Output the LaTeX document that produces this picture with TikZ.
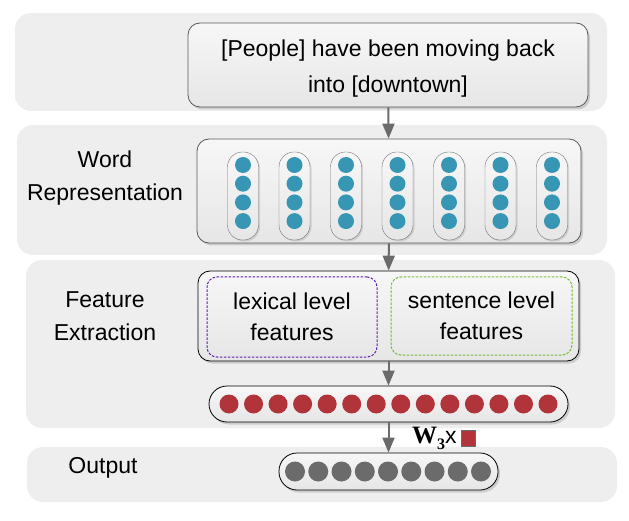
\documentclass[tikz,border=0pt]{standalone}
\usepackage{fontspec}
\setmainfont{Liberation Sans}
\newfontfamily\wfont{Liberation Serif}
\usetikzlibrary{arrows.meta, positioning, shadows}

\definecolor{bandgray}{HTML}{EEEEEE}
\definecolor{boxtop}{HTML}{F7F7F7}
\definecolor{boxbot}{HTML}{E6E6E6}
\definecolor{teal}{HTML}{3796B4}
\definecolor{wine}{HTML}{B0343A}
\definecolor{slate}{HTML}{6B6B6B}
\definecolor{lexviolet}{HTML}{5E1FA8}
\definecolor{sengreen}{HTML}{6CBF2A}

\begin{document}
\begin{tikzpicture}[
    x=1pt, y=-1pt,
    band/.style={fill=bandgray, rounded corners=16pt},
    block/.style={rectangle, draw=black!65, thick, rounded corners=12pt, top color=boxtop, bottom color=boxbot,
        inner sep=0pt, drop shadow={shadow xshift=2pt, shadow yshift=-2.5pt, opacity=0.3}},
    pill/.style={rectangle, draw=black!55, rounded corners=15pt, top color=boxtop, bottom color=boxbot,
        minimum width=31pt, minimum height=88pt, inner sep=0pt,
        drop shadow={shadow xshift=1.5pt, shadow yshift=-1.5pt, opacity=0.25}},
    dashbox/.style={rectangle, dash pattern=on 2.5pt off 1.5pt, line width=1pt, rounded corners=10pt,
        inner sep=0pt, align=center},
    dot/.style={circle, inner sep=0pt, minimum size=#1},
    flow/.style={-{Triangle[width=12pt, length=15pt]}, draw=slate, fill=slate, line width=2pt},
    lbl/.style={align=center, font=\fontsize{23}{33}\selectfont},
    ]

    % Bands
    \fill[band] (15,13) rectangle (607,111);
    \fill[band] (17,125) rectangle (607,255);
    \fill[band] (26,260) rectangle (615,428);
    \fill[band] (27,447) rectangle (617,502);

    % Sentence
    \node[block, minimum width=400pt, minimum height=84pt, align=center,
        font=\fontsize{23}{36}\selectfont] (sent) at (388,65) {\rule{0pt}{24pt}[People] have been moving back\\into [downtown]};

    % Word representation
    \node[lbl] (wordlbl) at (105,178) {Word\\Representation};
    \node[block, minimum width=384pt, minimum height=104pt] (word) at (389,191) {};
    \foreach \i in {0,...,6} {
        \node[pill] (col\i) at (243+51.5*\i,196) {};
        \foreach \k in {0,...,3}
            \node[dot=16pt, fill=teal] (t\i\k) at (243+51.5*\i,165+18.7*\k) {};
    }
    \draw[flow] (sent) -- (word);

    % Feature extraction
    \node[lbl] (featlbl) at (105,316) {Feature\\Extraction};
    \node[block, draw=black, minimum width=381pt, minimum height=90pt] (feat) at (388.5,316) {};
    \node[dashbox, draw=lexviolet, minimum width=170pt, minimum height=80pt,
        font=\fontsize{23}{31}\selectfont] (lex) at (292,317) {lexical level\\features};
    \node[dashbox, draw=sengreen, minimum width=181pt, minimum height=78pt,
        font=\fontsize{23}{31}\selectfont] (sen) at (481.5,316) {sentence level\\features};
    \draw[flow] (word) -- (feat);

    % Feature vector
    \node[block, draw=black, rounded corners=18pt, minimum width=359pt, minimum height=36pt] (vec) at (388.5,404) {};
    \foreach \i in {0,...,13}
        \node[dot=19pt, fill=wine] (r\i) at (229+24.54*\i,404) {};
    \draw[flow] (feat) -- (vec);

    % Output
    \node[lbl] (outlbl) at (103,468) {Output};
    \node[block, draw=black, rounded corners=18pt, minimum width=219pt, minimum height=37pt] (out) at (388.5,471.5) {};
    \foreach \i in {0,...,8}
        \node[dot=20pt, fill=slate] (g\i) at (295+23.25*\i,471.5) {};
    \draw[flow] (vec) -- (out);

    % Weight label
    \node[anchor=base west, inner sep=0pt] (wlab) at (412,443)
        {{\wfont\bfseries\fontsize{25}{25}\selectfont W\raisebox{-6pt}{\fontsize{16}{16}\selectfont 3}}{\fontsize{23}{23}\selectfont x}};
    \node[rectangle, draw=slate, fill=wine, minimum width=14pt, minimum height=16pt, inner sep=0pt,
        right=4pt of wlab.east] (wsq) {};

    \useasboundingbox (0,0) rectangle (629,521);
\end{tikzpicture}
\end{document}
